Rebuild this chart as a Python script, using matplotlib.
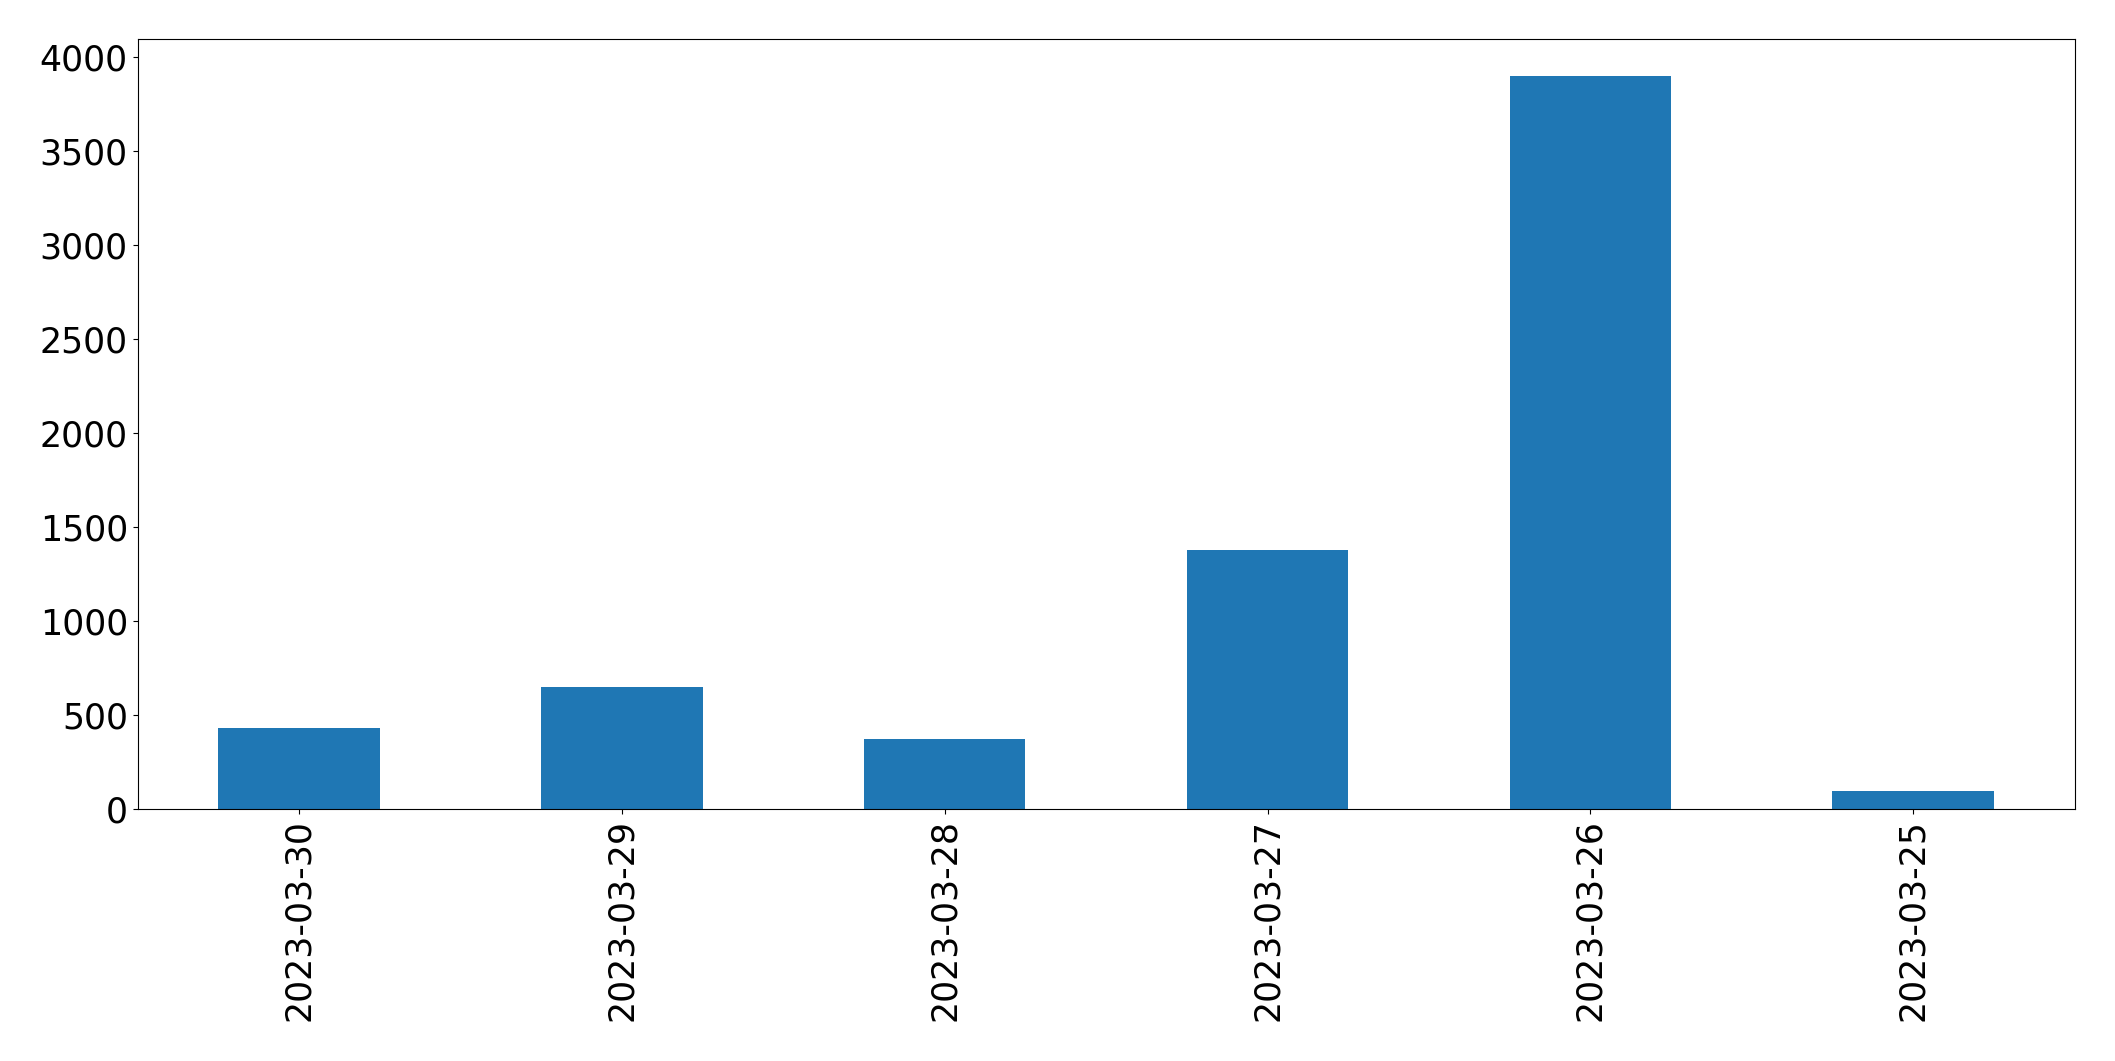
import matplotlib
matplotlib.use("Agg")
import matplotlib.pyplot as plt
import numpy as np

dates = ["2023-03-30", "2023-03-29", "2023-03-28", "2023-03-27", "2023-03-26", "2023-03-25"]
counts = [431, 649, 372, 1378, 3899, 96]

fig = plt.figure(figsize=(21.15, 10.61), dpi=100)
ax = fig.add_axes([137.6 / 2115, 1 - 809 / 1061, (2074.6 - 137.6) / 2115, (809 - 39) / 1061])
x = np.arange(len(dates))
ax.bar(x, counts, width=0.5, color="#1f77b4")
ax.set_xticks(x)
ax.set_xticklabels(dates, rotation=90)
ax.set_xlim(-0.5, len(dates) - 0.5)
ax.set_ylim(0, 4095)
ax.tick_params(labelsize=25)
fig.savefig("out.png", dpi=100)
